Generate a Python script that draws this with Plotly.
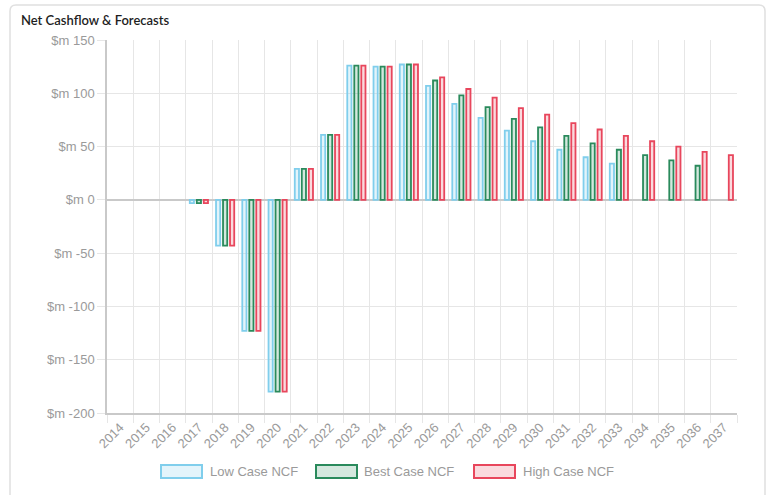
import plotly.graph_objects as go

# ---------------- data ----------------
years = [str(y) for y in range(2014, 2038)]

low_case = [None, None, None, -3, -43, -123, -180, 29, 61, 126, 125, 127,
            107, 90, 77, 65, 55, 47, 40, 34, None, None, None, None]
best_case = [None, None, None, -3, -43, -123, -180, 29, 61, 126, 125, 127,
             112, 98, 87, 76, 68, 60, 53, 47, 42, 37, 32, None]
high_case = [None, None, None, -3, -43, -123, -180, 29, 61, 126, 125, 127,
             115, 104, 96, 86, 80, 72, 66, 60, 55, 50, 45, 42]

series_names = ["Low Case NCF", "Best Case NCF", "High Case NCF"]
y_tick_values = [-200, -150, -100, -50, 0, 50, 100, 150]
y_tick_labels = ["$m -200", "$m -150", "$m -100", "$m -50", "$m 0", "$m 50", "$m 100", "$m 150"]
title_text = "Net Cashflow & Forecasts"

# ---------------- styles ----------------
line_colors = ["rgb(128,206,236)", "rgb(42,138,92)", "rgb(232,70,92)"]
fill_colors = ["rgba(128,206,236,0.22)", "rgba(42,138,92,0.2)", "rgba(232,70,92,0.2)"]

W, H = 770, 495
L, R, T, B = 107, 737, 40, 413  # plot area in pixels


def px_x(px):
    return (px - L) / (R - L)


def px_y(py):
    return (B - py) / (B - T)


fig = go.Figure()
for name, vals, lc, fc in zip(series_names, [low_case, best_case, high_case], line_colors, fill_colors):
    fig.add_trace(go.Bar(
        x=years, y=vals, name=name,
        marker=dict(color=fc, line=dict(color=lc, width=1.8)),
        showlegend=False,
    ))

grid = "#e6e6e6"
axis_line = "#c9c9c9"
tick_font = dict(family="Liberation Sans, Arial, sans-serif", size=13, color="#9a9a9a")

fig.update_layout(
    width=W, height=H,
    margin=dict(l=L, r=W - R, t=T, b=H - B, pad=0),
    paper_bgcolor="white", plot_bgcolor="white",
    barmode="group", bargap=0.2, bargroupgap=0.4,
    font=tick_font,
    xaxis=dict(
        type="category", tickson="boundaries", showgrid=True, gridcolor=grid, gridwidth=1,
        ticks="outside", ticklen=8, tickcolor=grid, tickangle=-45,
        showline=True, linecolor=axis_line, linewidth=1.5,
        tickfont=tick_font, range=[-0.5, 23.5], fixedrange=True,
    ),
    yaxis=dict(
        range=[-200, 150], tickvals=y_tick_values, ticktext=y_tick_labels,
        showgrid=True, gridcolor=grid, gridwidth=1,
        ticks="outside", ticklen=8, tickcolor=grid,
        showline=True, linecolor=axis_line, linewidth=1.5,
        zeroline=True, zerolinecolor=axis_line, zerolinewidth=1.5,
        tickfont=dict(family="Liberation Sans, Arial, sans-serif", size=13, color="#9a9a9a"),
        fixedrange=True,
    ),
)

# card border (rounded rectangle)
x0, x1, y0, y1, r = px_x(10), px_x(765), px_y(5), px_y(520), 6
rx, ry = r / (R - L), r / (B - T)
fig.add_shape(
    type="path", xref="paper", yref="paper", layer="below",
    path=(f"M {x0 + rx},{y0} L {x1 - rx},{y0} Q {x1},{y0} {x1},{y0 - ry} "
          f"L {x1},{y1} L {x0},{y1} L {x0},{y0 - ry} Q {x0},{y0} {x0 + rx},{y0} Z"),
    line=dict(color="#e0e0e0", width=1.5), fillcolor="rgba(0,0,0,0)",
)

# title
fig.add_annotation(
    text=title_text, xref="paper", yref="paper", x=px_x(19), y=px_y(20),
    xanchor="left", yanchor="middle", showarrow=False,
    font=dict(family="Lato, Open Sans, sans-serif", size=13, color="#1e1e1e", weight=600),
)

# custom legend (wide boxes like the original)
legend_box_x = [161, 316, 474]
legend_text_x = [208, 362, 521]
for name, lc, fc, bx, tx in zip(series_names, line_colors, fill_colors, legend_box_x, legend_text_x):
    fig.add_shape(
        type="rect", xref="paper", yref="paper",
        x0=px_x(bx), x1=px_x(bx + 41), y0=px_y(465), y1=px_y(478),
        line=dict(color=lc, width=2), fillcolor=fc,
    )
    fig.add_annotation(
        text=name, xref="paper", yref="paper", x=px_x(tx), y=px_y(471.5),
        xanchor="left", yanchor="middle", showarrow=False,
        font=dict(family="Liberation Sans, Arial, sans-serif", size=13, color="#9a9a9a"),
    )

fig.write_html("out.html", config=dict(displayModeBar=False),
               post_script="document.body.style.margin='0';")
